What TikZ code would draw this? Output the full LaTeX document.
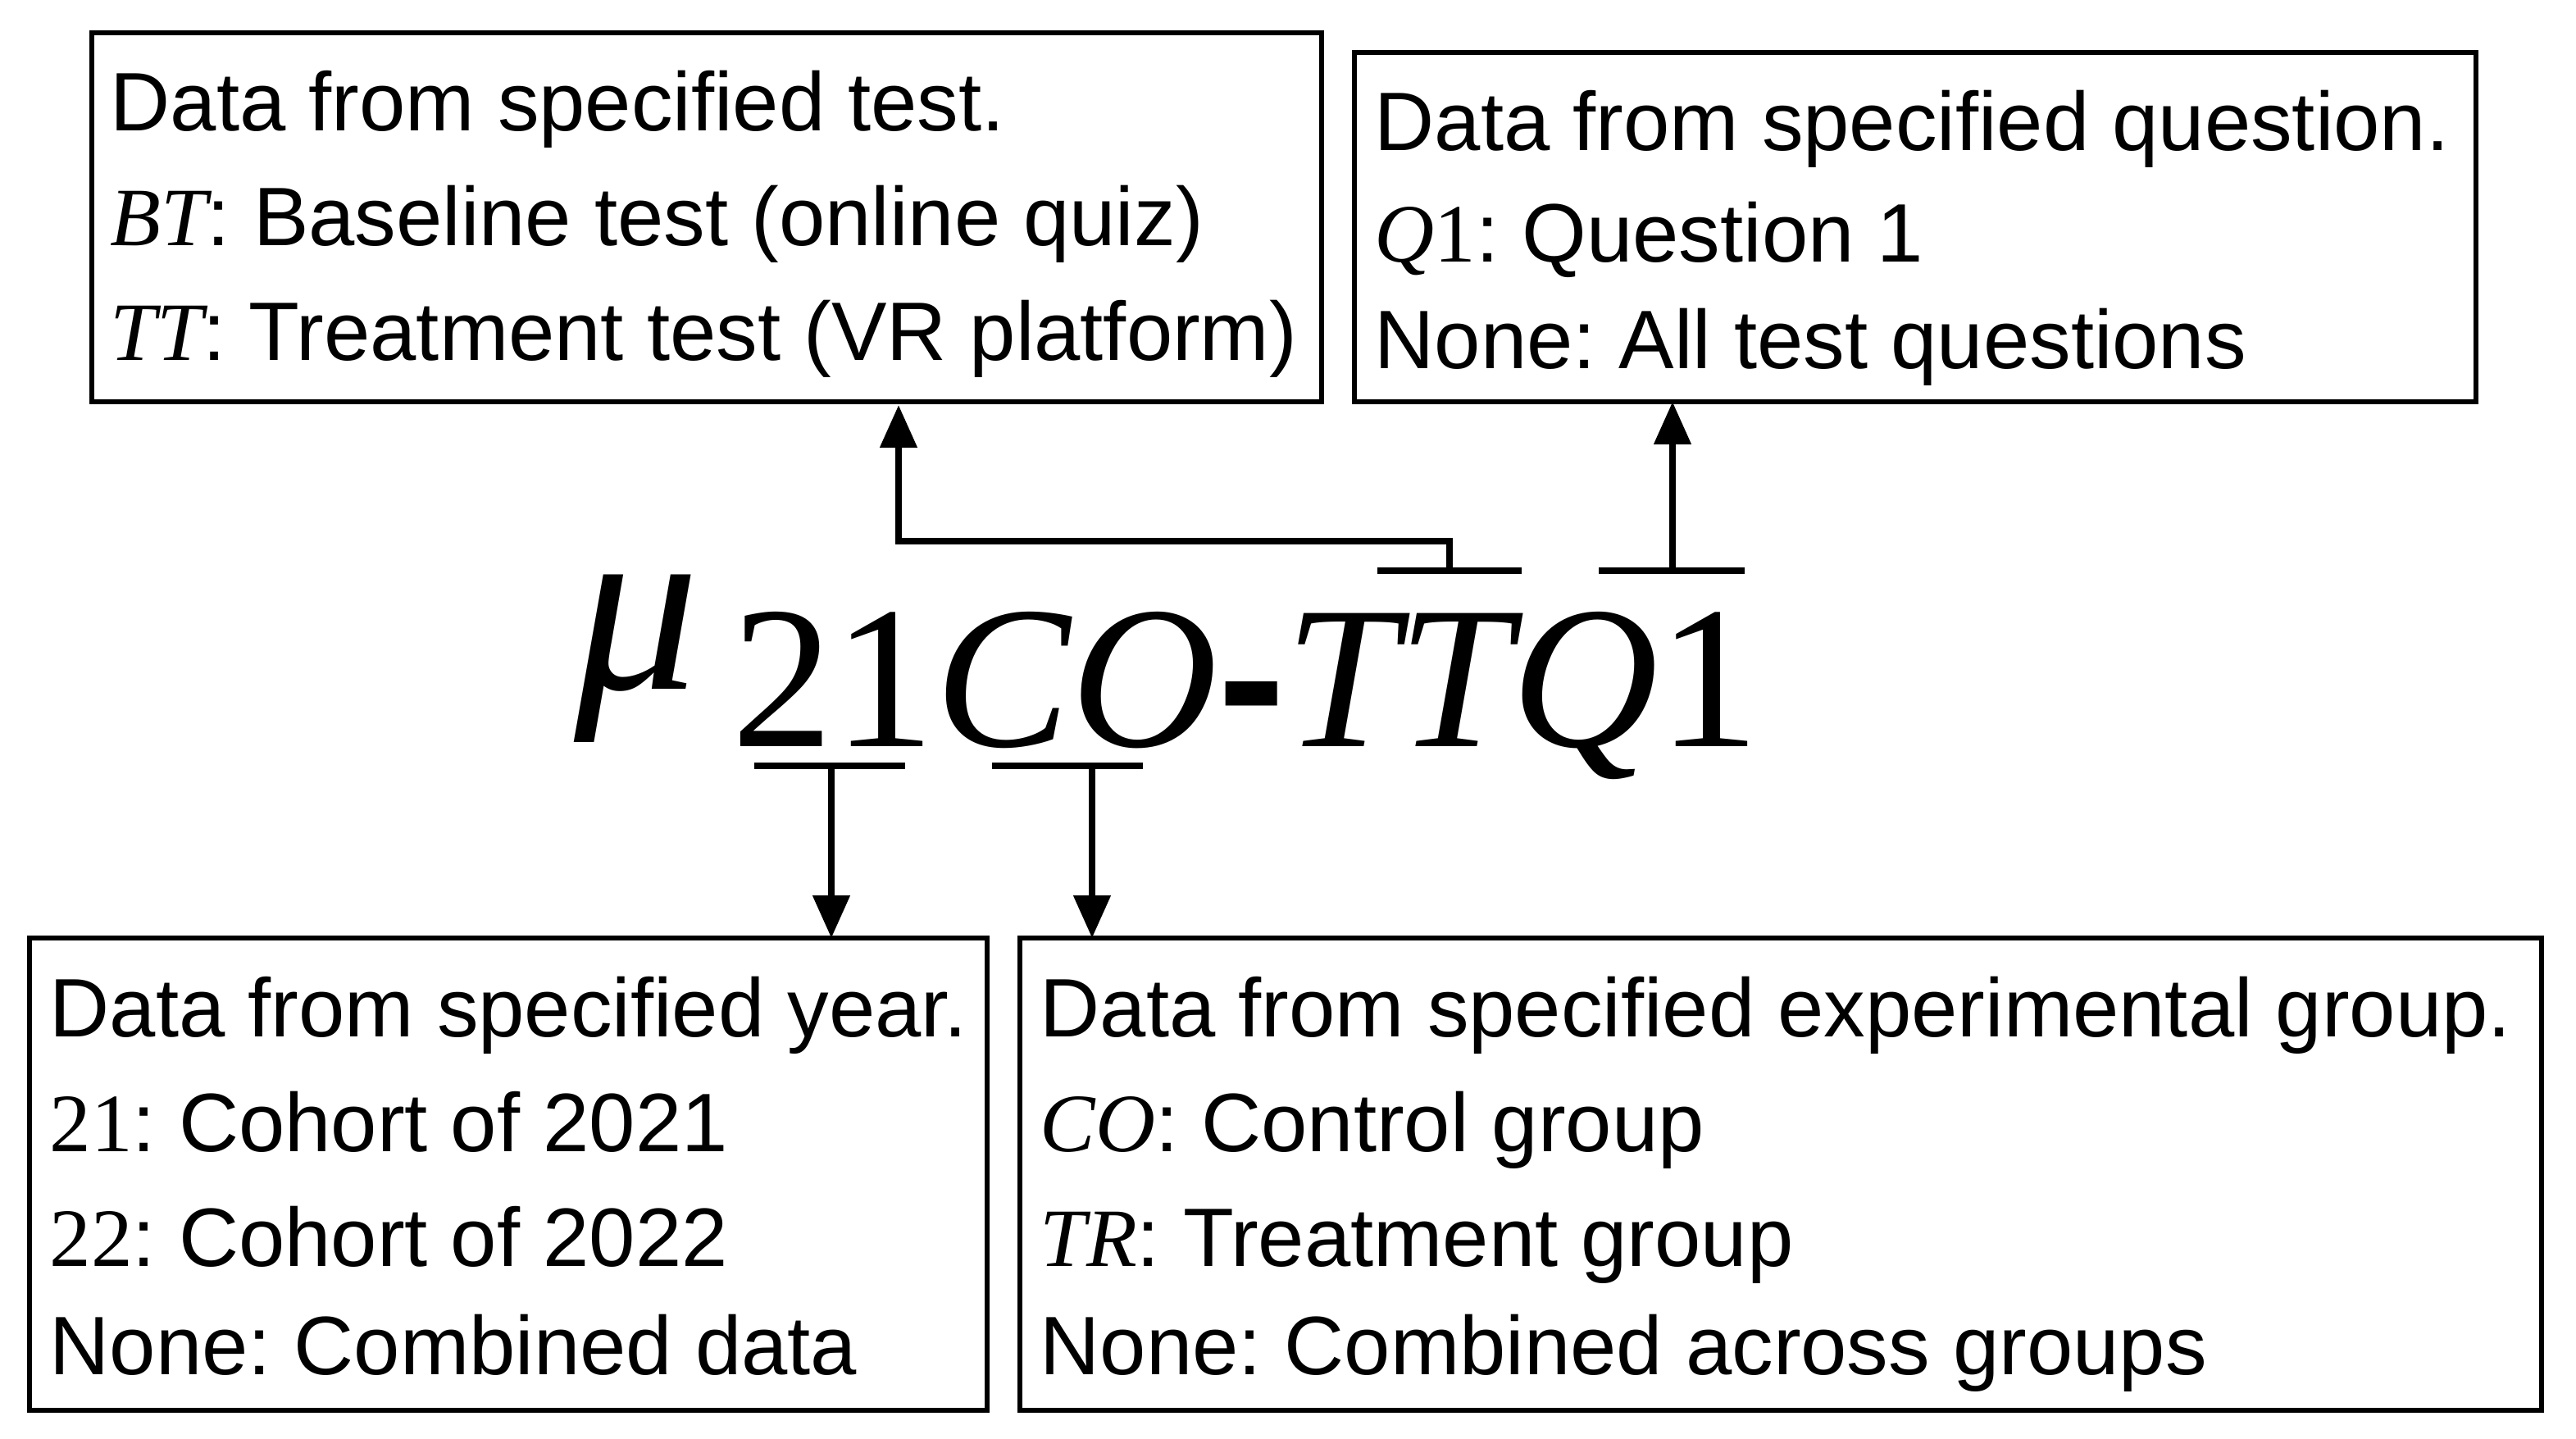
\documentclass[tikz,border=0pt]{standalone}
\usepackage{fontspec}
\setmainfont{Liberation Sans}
\newfontfamily\tms{Liberation Serif}
\newcommand{\mi}[1]{{\tms\itshape #1}}
\newcommand{\mr}[1]{{\tms #1}}
\usetikzlibrary{arrows.meta}
\frenchspacing
\begin{document}
\frenchspacing
\begin{tikzpicture}[x=0.5pt,y=-0.5pt,
  box/.style={draw,line width=1.5pt},
  ln/.style={anchor=base west,inner sep=0pt,font=\frenchspacing\fontsize{25.3}{28}\selectfont},
  bar/.style={line width=2pt},
  arr/.style={line width=2pt,-{Triangle[width=11pt,length=13pt]}}]
\useasboundingbox (0,0) rectangle (1571,877.5);
% boxes
\draw[box] (56,20) rectangle (806,245);
\draw[box] (826,32) rectangle (1510,245);
\draw[box] (18,572) rectangle (602,860);
\draw[box] (622,572) rectangle (1550,860);
\node (b1) at (431,245) {};
\node (b2) at (1020,245) {};
\node (b3) at (507,572) {};
\node (b4) at (666,572) {};
% box texts
\node[ln] (t11) at (67,80) {Data from specified test.};
\node[ln] (t12) at (67,150) {\mi{BT}: Baseline test (online quiz)};
\node[ln] (t13) at (67,220) {\mi{TT}: Treatment test (VR platform)};
\node[ln] (t21) at (838,92) {Data from specified question.};
\node[ln] (t22) at (838,160) {\mi{Q}\mr{1}: Question 1};
\node[ln] (t23) at (838,225) {None: All test questions};
\node[ln] (t31) at (30,632) {Data from specified year.};
\node[ln] (t32) at (30,702) {\mr{21}: Cohort of 2021};
\node[ln] (t33) at (30,772) {\mr{22}: Cohort of 2022};
\node[ln] (t34) at (30,838) {None: Combined data};
\node[ln] (t41) at (634,632) {Data from specified experimental group.};
\node[ln] (t42) at (634,702) {\mi{CO}: Control group};
\node[ln] (t43) at (634,772) {\mi{TR}: Treatment group};
\node[ln] (t44) at (634,838) {None: Combined across groups};
% formula
\node[anchor=base west,inner sep=0pt,font=\fontsize{76}{76}\selectfont] (mu) at (350,420) {\mi{μ}};
\node[anchor=base west,inner sep=0pt,font=\fontsize{62}{62}\selectfont] (f) at (446,455) {\mr{21}\mi{CO}\textbf{-}\mi{TTQ}\mr{1}};
% bars
\coordinate (tta) at (840,348); \coordinate (ttb) at (928,348);
\coordinate (qa) at (975,348); \coordinate (qb) at (1064,348);
\coordinate (ya) at (460,467); \coordinate (yb) at (552,467);
\coordinate (ca) at (605,467); \coordinate (cb) at (697,467);
\draw[bar] (tta) -- (ttb);
\draw[bar] (qa) -- (qb);
\draw[bar] (ya) -- (yb);
\draw[bar] (ca) -- (cb);
\coordinate (ttm) at (884,348);
\coordinate (qm) at (1020,348);
\coordinate (ym) at (507,467);
\coordinate (cm) at (666,467);
\draw[arr] (ttm) -- (884,330) -- (548,330) -- (548,247);
\draw[arr] (qm) -- (b2.center);
\draw[arr] (ym) -- (b3.center);
\draw[arr] (cm) -- (b4.center);
\end{tikzpicture}
\end{document}
